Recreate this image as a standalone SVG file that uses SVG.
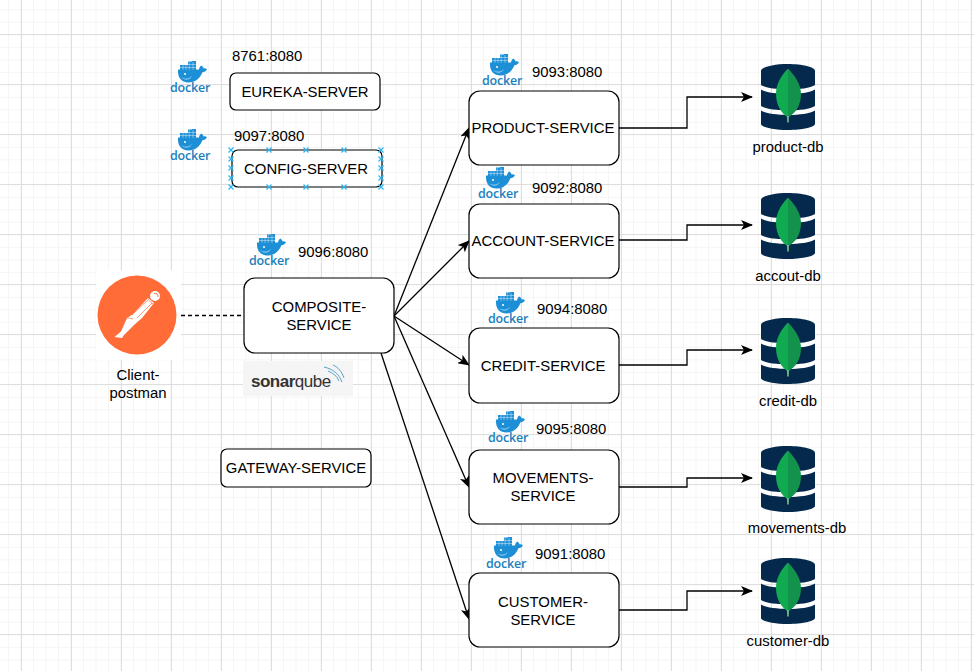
<svg xmlns="http://www.w3.org/2000/svg" width="974" height="671" viewBox="0 0 974 671">
<style>
text{font-family:"Liberation Sans",Arial,sans-serif;font-size:14.9px;fill:#000}
.c{text-anchor:middle}
.box{fill:#fff;stroke:#000;stroke-width:1.2}
.con{fill:none;stroke:#000;stroke-width:1.3;marker-end:url(#arrow)}
.dock{font-family:"Open Sans","Liberation Sans",sans-serif;font-size:12.5px;font-weight:600;fill:#1b7fbd;text-anchor:middle;letter-spacing:-.2px}
.x{fill:none;stroke:#29b6f2;stroke-width:1.2}
</style>
<defs>
<pattern id="minor" width="12.5" height="12.5" patternUnits="userSpaceOnUse" x="-4.5" y="-3.2"><path d="M0 .5H12.5M.5 0V12.5" fill="none" stroke="#f5f5f5" stroke-width="1"/></pattern>
<pattern id="major" width="50" height="50" patternUnits="userSpaceOnUse" x="21" y="34"><path d="M0 .5H50M.5 0V50" fill="none" stroke="#dedede" stroke-width="1"/></pattern>
<marker id="arrow" viewBox="0 0 12 10" markerUnits="userSpaceOnUse" markerWidth="12" markerHeight="10" refX="11" refY="5" orient="auto"><path d="M0 0L12 5L0 10L3 5Z" fill="#000"/></marker>
<symbol id="docker" overflow="visible" width="1" height="1">
<path d="M-12 7.5H9C9.2 5.8 10 4.2 11.2 3.4C12.6 4.2 13.4 5.2 13.6 6.4C14.8 6.1 16 6.4 17 7.2C16 9 14.2 10.2 12.4 10.2C10 16.5 5 20.5 -1.5 20.5C-8.5 20.5 -12.6 15.5 -12 7.5Z" fill="#1d8fd6"/>
<path d="M-10 3H-2V-.5H2V-1H6V8H-10Z" fill="#1d8fd6"/>
<path d="M-10 5.5H6M-7 3V8M-4 3V8M-.8 0V8M3 0V8M-2 2.5H6" stroke="#fff" stroke-width=".4" fill="none"/>
<path d="M-9 15C-5 17.5 -1 17 2 14C0 18 -5 19.5 -9 15Z" fill="#8ec9ee"/>
<circle cx="-5" cy="12" r="1" fill="#fff"/>
<text class="dock" x="0" y="30">docker</text>
</symbol>
<symbol id="mongo" overflow="visible" width="1" height="1">
<path d="M-27 7C-27 3 -14 0 0 0S27 3 27 7V21C18 27 -18 27 -27 21Z" fill="#04294d"/>
<path d="M-27 25.5C-18 31.5 18 31.5 27 25.5V42C18 48 -18 48 -27 42Z" fill="#04294d"/>
<path d="M-27 46.5C-18 52.5 18 52.5 27 46.5V60C27 63 14 66 0 66S-27 63 -27 60Z" fill="#04294d"/>
<path d="M-.5 5C-8 13 -12 21 -12 30C-12 42 -6 49 -1 53V58H0V5Z" fill="#10aa50"/>
<path d="M.5 5C8 13 13 21 13 30C13 42 7 49 1 53V58H0V5Z" fill="#13924c"/>
<path d="M-.6 52H.6L.3 59H-.3Z" fill="#b8c4c2"/>
</symbol>
<path id="xm" class="x" d="M-2.5 -2.5L2.5 2.5M-2.5 2.5L2.5 -2.5"/>
</defs>

<rect width="974" height="671" fill="#fff"/>
<rect width="974" height="671" fill="url(#minor)"/>
<rect width="974" height="671" fill="url(#major)"/>

<g id="connectors">
<path d="M181 315.500H244" fill="none" stroke="#000" stroke-width="1.5" stroke-dasharray="4 3"/>
<path class="con" d="M394 316L469 128"/>
<path class="con" d="M394 316L469 241"/>
<path class="con" d="M394 316L469 365"/>
<path class="con" d="M394 316L469 487"/>
<path class="con" d="M381 353L469 619"/>
<path class="con" d="M619 128H687V97H752"/>
<path class="con" d="M619 240H687V225H752"/>
<path class="con" d="M619 365H687V350H752"/>
<path class="con" d="M619 487H687V478H752"/>
<path class="con" d="M619 610H687V591H752"/>
</g>

<g id="client-postman">
<rect x="96" y="270" width="85" height="90" fill="#fff"/>
<circle cx="137" cy="315" r="39.5" fill="#ff6c37"/>
<path d="M114.5 337L121 331.500L127 318L133 314L148 298L154 303L142 318L134 325L124 335L122 338Z" fill="#fff"/>
<circle cx="155" cy="296" r="5" fill="#fff"/>
<path d="M149 300.500L153 304M127 317.500L133 319M132 315L149 299M137 318L152 303" stroke="#ff6c37" stroke-width=".7" fill="none"/>
<path d="M154 293.500A3 3 0 0 1 158 297" stroke="#ff6c37" stroke-width="1" fill="none"/>
<text class="c" x="138" y="380">Client-</text>
<text class="c" x="138" y="398">postman</text>
</g>

<g id="eureka-server">
<rect class="box" x="230" y="73" width="150" height="37" rx="6"/>
<text class="c" x="305" y="97">EUREKA-SERVER</text>
<text x="232" y="61">8761:8080</text>
<use href="#docker" x="190" y="62"/>
</g>

<g id="config-server">
<rect class="box" x="232" y="150" width="150" height="37" rx="6"/>
<text class="c" x="306" y="174">CONFIG-SERVER</text>
<text x="234" y="141">9097:8080</text>
<use href="#docker" x="190" y="130"/>
<use href="#xm" x="231" y="150"/><use href="#xm" x="269" y="150"/><use href="#xm" x="306" y="150"/><use href="#xm" x="344" y="150"/><use href="#xm" x="381" y="150"/>
<use href="#xm" x="231" y="159"/><use href="#xm" x="381" y="159"/>
<use href="#xm" x="231" y="168"/><use href="#xm" x="381" y="168"/>
<use href="#xm" x="231" y="178"/><use href="#xm" x="381" y="178"/>
<use href="#xm" x="231" y="187"/><use href="#xm" x="269" y="187"/><use href="#xm" x="306" y="187"/><use href="#xm" x="344" y="187"/><use href="#xm" x="381" y="187"/>
</g>

<g id="composite-service">
<rect class="box" x="244" y="278" width="150" height="75" rx="11"/>
<text class="c" x="319" y="312">COMPOSITE-</text>
<text class="c" x="319" y="330">SERVICE</text>
<text x="298" y="257">9096:8080</text>
<use href="#docker" x="269" y="235"/>
</g>

<g id="sonarqube">
<rect x="243" y="361" width="110" height="35" fill="#f5f5f5"/>
<text x="251" y="387" style="font-size:17px;font-weight:700;fill:#333;letter-spacing:-.5px">sonar<tspan style="font-weight:400">qube</tspan></text>
<path d="M324 367C333 369 339 374 342 382M328 371C333 373 337 376 339 381M333 365C338 367 342 372 344 378" fill="none" stroke="#5b9fca" stroke-width="1"/>
</g>

<g id="gateway-service">
<rect class="box" x="221" y="449" width="150" height="38" rx="6"/>
<text class="c" x="296" y="473">GATEWAY-SERVICE</text>
</g>

<g id="product-service">
<rect class="box" x="469" y="91" width="150" height="74" rx="11"/>
<text class="c" x="543" y="133">PRODUCT-SERVICE</text>
<text x="532" y="77">9093:8080</text>
<use href="#docker" x="502" y="55"/>
</g>

<g id="account-service">
<rect class="box" x="469" y="204" width="150" height="74" rx="11"/>
<text class="c" x="543" y="246">ACCOUNT-SERVICE</text>
<text x="532" y="193">9092:8080</text>
<use href="#docker" x="498" y="168"/>
</g>

<g id="credit-service">
<rect class="box" x="469" y="328" width="150" height="75" rx="11"/>
<text class="c" x="543" y="371">CREDIT-SERVICE</text>
<text x="537" y="314">9094:8080</text>
<use href="#docker" x="508" y="293"/>
</g>

<g id="movements-service">
<rect class="box" x="469" y="450" width="150" height="74" rx="11"/>
<text class="c" x="543" y="483">MOVEMENTS-</text>
<text class="c" x="543" y="501">SERVICE</text>
<text x="536" y="434">9095:8080</text>
<use href="#docker" x="508" y="412"/>
</g>

<g id="customer-service">
<rect class="box" x="469" y="573" width="150" height="74" rx="11"/>
<text class="c" x="543" y="607">CUSTOMER-</text>
<text class="c" x="543" y="625">SERVICE</text>
<text x="535" y="559">9091:8080</text>
<use href="#docker" x="506" y="538"/>
</g>

<g id="product-db"><use href="#mongo" x="788" y="64"/><text class="c" x="788" y="152">product-db</text></g>
<g id="accout-db"><use href="#mongo" x="788" y="193"/><text class="c" x="788" y="281">accout-db</text></g>
<g id="credit-db"><use href="#mongo" x="788" y="318"/><text class="c" x="788" y="406">credit-db</text></g>
<g id="movements-db"><use href="#mongo" x="788" y="446"/><text class="c" x="797" y="533">movements-db</text></g>
<g id="customer-db"><use href="#mongo" x="788" y="558"/><text class="c" x="788" y="646">customer-db</text></g>
</svg>
